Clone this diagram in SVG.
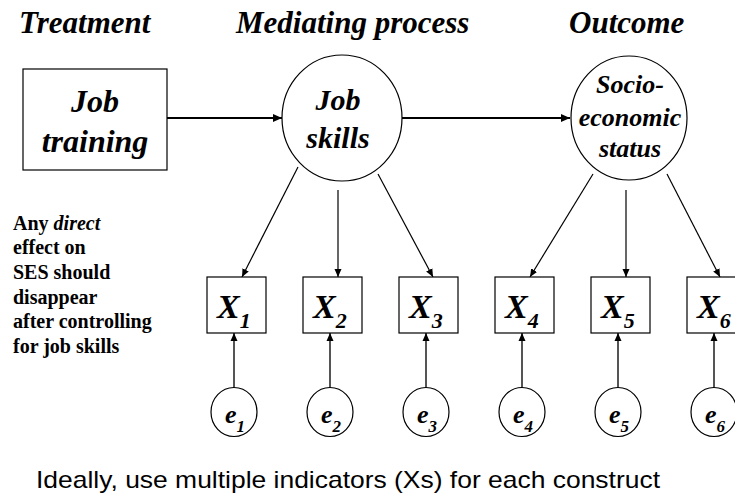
<svg xmlns="http://www.w3.org/2000/svg" width="735" height="495" viewBox="0 0 735 495">
<style>
.t{font-family:'Liberation Serif','Times New Roman',Times,'DejaVu Serif',serif;font-weight:bold;font-style:italic;fill:#000}
.title{font-size:31px}
.note{font-family:'Liberation Serif','Times New Roman',Times,'DejaVu Serif',serif;font-weight:bold;font-size:20px;fill:#000}
.cap{font-family:'Liberation Sans',Arial,sans-serif;font-size:24px;fill:#000}
.box{fill:#fff;stroke:#000;stroke-width:1.2}
.ell{fill:#fff;stroke:#000;stroke-width:1.2}
.main{stroke:#000;stroke-width:2.2;fill:none}
.load{stroke:#000;stroke-width:1.2;fill:none}
.err{stroke:#555;stroke-width:2;fill:none}
.xl{font-size:34px}
.xs{font-size:22px}
.el{font-size:26px}
.es{font-size:17px}
</style>
<defs>
<marker id="ah" markerUnits="userSpaceOnUse" markerWidth="10" markerHeight="8" refX="9" refY="4" orient="auto">
<path d="M0,0 L9,4 L0,8 Z" fill="#000"/>
</marker>
<marker id="ahs" markerUnits="userSpaceOnUse" markerWidth="9" markerHeight="8" refX="8" refY="4" orient="auto">
<path d="M0,0.5 L8,4 L0,7.5 Z" fill="#000"/>
</marker>
</defs>
<rect width="735" height="495" fill="#fff"/>

<g id="titles">
<text class="t title" x="19" y="33">Treatment</text>
<text class="t title" x="236" y="33">Mediating process</text>
<text class="t title" x="569" y="33">Outcome</text>
</g>

<g id="connectors">
<line class="main" x1="167" y1="118" x2="282" y2="118" marker-end="url(#ah)"/>
<line class="main" x1="402" y1="118" x2="570" y2="118" marker-end="url(#ah)"/>
<line class="load" x1="298" y1="167" x2="242" y2="277" marker-end="url(#ahs)"/>
<line class="load" x1="338" y1="190" x2="338" y2="277" marker-end="url(#ahs)"/>
<line class="load" x1="378" y1="174" x2="433" y2="277" marker-end="url(#ahs)"/>
<line class="load" x1="593" y1="174" x2="530" y2="277" marker-end="url(#ahs)"/>
<line class="load" x1="626" y1="190" x2="626" y2="277" marker-end="url(#ahs)"/>
<line class="load" x1="667" y1="174" x2="720" y2="277" marker-end="url(#ahs)"/>
<line class="err" x1="234" y1="388" x2="234" y2="333" marker-end="url(#ahs)"/>
<line class="err" x1="330" y1="388" x2="330" y2="333" marker-end="url(#ahs)"/>
<line class="err" x1="426" y1="388" x2="426" y2="333" marker-end="url(#ahs)"/>
<line class="err" x1="522" y1="388" x2="522" y2="333" marker-end="url(#ahs)"/>
<line class="err" x1="618" y1="388" x2="618" y2="333" marker-end="url(#ahs)"/>
<line class="err" x1="714" y1="388" x2="714" y2="333" marker-end="url(#ahs)"/>
</g>

<g id="job-training">
<rect class="box" x="23" y="69" width="144" height="101"/>
<text class="t" font-size="32" text-anchor="middle" x="95" y="112">Job</text>
<text class="t" font-size="32" text-anchor="middle" x="95" y="152">training</text>
</g>

<g id="job-skills">
<ellipse class="ell" cx="342" cy="118" rx="60" ry="63"/>
<text class="t" font-size="30" text-anchor="middle" x="338" y="110">Job</text>
<text class="t" font-size="30" text-anchor="middle" x="338" y="148">skills</text>
</g>

<g id="ses">
<ellipse class="ell" cx="629" cy="118" rx="58" ry="62"/>
<text class="t" font-size="26" text-anchor="middle" x="630" y="93">Socio-</text>
<text class="t" font-size="26" text-anchor="middle" x="630" y="126">economic</text>
<text class="t" font-size="26" text-anchor="middle" x="630" y="157">status</text>
</g>

<g id="x1"><rect class="box" x="207" y="277" width="59" height="56"/><text class="t xl" x="217" y="318">X<tspan class="xs" dy="10">1</tspan></text></g>
<g id="x2"><rect class="box" x="303" y="277" width="59" height="56"/><text class="t xl" x="313" y="318">X<tspan class="xs" dy="10">2</tspan></text></g>
<g id="x3"><rect class="box" x="399" y="277" width="59" height="56"/><text class="t xl" x="409" y="318">X<tspan class="xs" dy="10">3</tspan></text></g>
<g id="x4"><rect class="box" x="495" y="277" width="59" height="56"/><text class="t xl" x="505" y="318">X<tspan class="xs" dy="10">4</tspan></text></g>
<g id="x5"><rect class="box" x="591" y="277" width="59" height="56"/><text class="t xl" x="601" y="318">X<tspan class="xs" dy="10">5</tspan></text></g>
<g id="x6"><rect class="box" x="687" y="277" width="59" height="56"/><text class="t xl" x="697" y="318">X<tspan class="xs" dy="10">6</tspan></text></g>

<g id="e1"><ellipse class="ell" cx="234" cy="412" rx="23" ry="24.5"/><text class="t el" x="225" y="423">e<tspan class="es" dy="9">1</tspan></text></g>
<g id="e2"><ellipse class="ell" cx="330" cy="412" rx="23" ry="24.5"/><text class="t el" x="321" y="423">e<tspan class="es" dy="9">2</tspan></text></g>
<g id="e3"><ellipse class="ell" cx="426" cy="412" rx="23" ry="24.5"/><text class="t el" x="417" y="423">e<tspan class="es" dy="9">3</tspan></text></g>
<g id="e4"><ellipse class="ell" cx="522" cy="412" rx="23" ry="24.5"/><text class="t el" x="513" y="423">e<tspan class="es" dy="9">4</tspan></text></g>
<g id="e5"><ellipse class="ell" cx="618" cy="412" rx="23" ry="24.5"/><text class="t el" x="609" y="423">e<tspan class="es" dy="9">5</tspan></text></g>
<g id="e6"><ellipse class="ell" cx="714" cy="412" rx="23" ry="24.5"/><text class="t el" x="705" y="423">e<tspan class="es" dy="9">6</tspan></text></g>

<g id="note">
<text class="note" x="13" y="230">Any <tspan font-style="italic">direct</tspan></text>
<text class="note" x="13" y="254">effect on</text>
<text class="note" x="13" y="279">SES should</text>
<text class="note" x="13" y="304">disappear</text>
<text class="note" x="13" y="328">after controlling</text>
<text class="note" x="13" y="353">for job skills</text>
</g>

<g id="caption">
<text class="cap" x="36" y="488" textLength="624" lengthAdjust="spacingAndGlyphs">Ideally, use multiple indicators (Xs) for each construct</text>
</g>
</svg>
